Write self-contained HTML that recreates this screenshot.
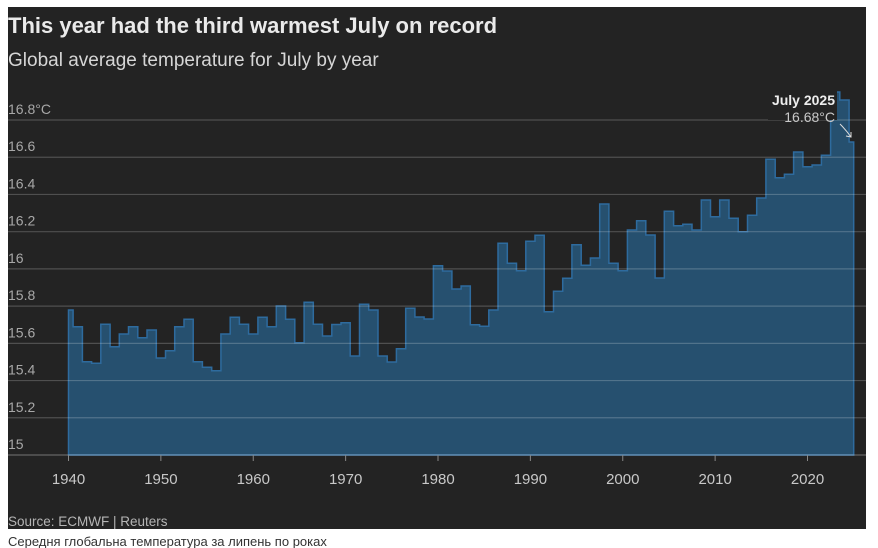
<!DOCTYPE html>
<html><head><meta charset="utf-8"><style>
html,body{margin:0;padding:0;background:#fff;width:878px;height:548px;overflow:hidden;font-family:"Liberation Sans",sans-serif}
</style></head><body>
<svg id="s" width="878" height="548" xmlns="http://www.w3.org/2000/svg" style="position:absolute;left:0;top:0;font-family:'Liberation Sans',sans-serif">
<rect x="8" y="7" width="858" height="522" fill="#232323"/>
<text x="8" y="33" font-size="22" font-weight="bold" fill="#eaeaea">This year had the third warmest July on record</text>
<text x="8" y="66" font-size="19" fill="#d6d6d6">Global average temperature for July by year</text>
<path id="area" fill="#26506f" stroke="#2e6b9e" stroke-width="1.5"/>
<g id="grid"></g>
<g id="ticks"></g>
<rect x="768" y="89" width="69" height="31" fill="#232323"/>
<text x="835" y="105" font-size="14" font-weight="bold" fill="#ededed" text-anchor="end">July 2025</text>
<text x="835" y="122" font-size="14" fill="#c8c8c8" text-anchor="end">16.68°C</text>
<path d="M840 124 Q846 130 851 137" stroke="#ddd" stroke-width="1" fill="none"/>
<path d="M846 136 L851 137 L851 132" stroke="#ddd" stroke-width="1" fill="none"/>
<text x="8" y="526" font-size="13.5" fill="#b5b5b5">Source: ECMWF | Reuters</text>
<text x="8" y="546" font-size="13" fill="#333">Середня глобальна температура за липень по роках</text>
</svg>
<script>
var tops=[310,326.7,361.7,363.3,324.3,346.7,334,326.7,337.7,330,358,350.7,326.7,319.3,361.7,367.3,370.7,334,317.3,324.3,334,317.3,326.7,306,319.3,342.7,302.3,324.3,336,324.5,322.7,356,304.3,310,356,362,348.7,308.3,317,319,265.7,271,289,286,324.7,326.3,310,243.3,263.3,270.7,241.3,235.3,311.7,291.3,278.3,244.7,265.3,258,204,263.3,270.7,230,220.7,235,278,211.3,225.7,224.3,230,200,216.7,200,218.3,231.7,215.3,198,159.3,177.7,174.3,152,166.7,165,155.3,92,100,142];
var x0=68.5,st=9.2375,base=455,n=tops.length;
function ex(i){return i<=0?x0:(i>=n?x0+(n-1)*st:x0+(i-0.5)*st);}
var d="M"+x0+" "+base;
for(var i=0;i<n;i++){d+=" L"+ex(i).toFixed(1)+" "+tops[i]+" L"+ex(i+1).toFixed(1)+" "+tops[i];}
d+=" L"+ex(n).toFixed(1)+" "+base+" Z";
document.getElementById("area").setAttribute("d",d);
var NS="http://www.w3.org/2000/svg",g=document.getElementById("grid"),t=document.getElementById("ticks");
var labs=["15","15.2","15.4","15.6","15.8","16","16.2","16.4","16.6","16.8°C"];
for(var k=0;k<10;k++){var y=455-k*37.22;
var l=document.createElementNS(NS,"line");l.setAttribute("x1",8);l.setAttribute("x2",866);l.setAttribute("y1",y);l.setAttribute("y2",y);
l.setAttribute("stroke",k==0?"rgba(255,255,255,0.3)":"rgba(255,255,255,0.2)");l.setAttribute("stroke-width",1.2);g.appendChild(l);
var tx=document.createElementNS(NS,"text");tx.setAttribute("x",8);tx.setAttribute("y",y-6);tx.setAttribute("font-size",14);tx.setAttribute("fill","#a8a8a8");tx.textContent=labs[k];g.appendChild(tx);}
for(var yr=1940;yr<=2020;yr+=10){var x=x0+(yr-1940)*st;
var l=document.createElementNS(NS,"line");l.setAttribute("x1",x);l.setAttribute("x2",x);l.setAttribute("y1",455);l.setAttribute("y2",461);l.setAttribute("stroke","#888");t.appendChild(l);
var tx=document.createElementNS(NS,"text");tx.setAttribute("x",x);tx.setAttribute("y",484);tx.setAttribute("font-size",15);tx.setAttribute("fill","#c8c8c8");tx.setAttribute("text-anchor","middle");tx.textContent=yr;t.appendChild(tx);}
</script>
</body></html>
